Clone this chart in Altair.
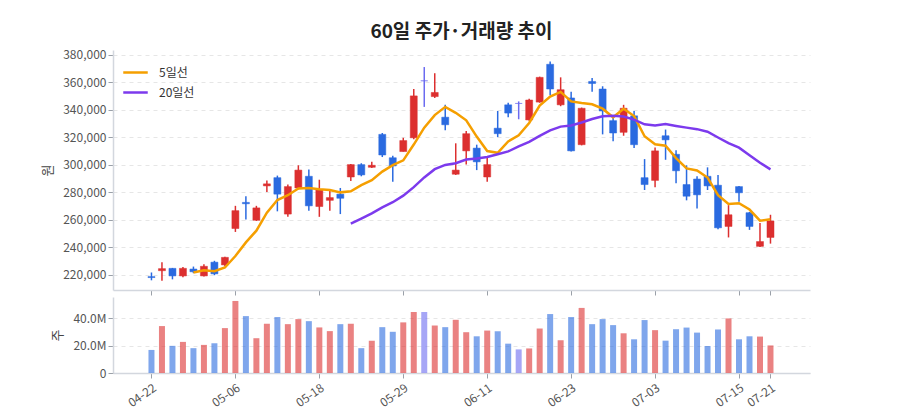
import altair as alt
import pandas as pd
import numpy as np

dates = ["04-22","04-23","04-24","04-25","04-28","04-29","04-30","05-02","05-06",
         "05-07","05-08","05-09","05-12","05-13","05-14","05-15","05-18",
         "05-19","05-20","05-21","05-22","05-23","05-26","05-27","05-29",
         "05-30","06-02","06-03","06-04","06-05","06-09","06-10","06-11",
         "06-12","06-13","06-16","06-17","06-18","06-19","06-20","06-23",
         "06-24","06-25","06-26","06-27","06-30","07-01","07-02","07-03",
         "07-04","07-07","07-08","07-09","07-10","07-11","07-14","07-15",
         "07-16","07-17","07-21"]

opens  = [218500,222800,224500,219000,224000,219000,229000,227000,253500,
          272500,259500,284500,290500,264000,283000,291500,269500,
          274000,278500,291000,300000,298000,322000,305000,309500,
          319500,361000,349500,334500,293000,310000,312000,291000,
          326500,343500,344500,332500,345500,373000,343500,348500,
          314500,360500,355000,332000,323500,335500,290500,288500,
          321000,307500,285500,289500,291500,285000,255000,284000,
          265000,240500,247000]
highs  = [221500,229000,224800,225500,225800,227500,230000,233000,270000,
          277000,270000,288500,292000,285500,299500,296500,289000,
          281000,283000,300500,301000,302000,323000,306500,319500,
          355000,371000,366500,343500,315500,324500,314500,305500,
          339000,345000,346000,348000,364000,375000,363500,353000,
          341500,363000,357000,336000,343500,339000,304000,312500,
          325500,310500,299500,291500,298000,292500,270500,284500,
          265500,257500,263500]
lows   = [215800,215500,216500,218000,221000,218500,219500,226000,251000,
          260000,259000,280000,266000,262000,282000,266500,262000,
          266500,264000,288000,291500,297500,305500,287500,309500,
          318500,342000,348500,325000,292500,300000,296000,287500,
          320000,334500,333000,332000,345000,350500,342500,309500,
          314000,353000,322000,317000,321000,312000,281500,283500,
          303500,286500,274000,268000,281500,253000,247000,273000,
          252500,240000,242500]
closes = [217800,224300,219000,224500,222000,226000,220500,232500,266500,
          271500,268500,286000,278500,284000,296000,270000,281500,
          276000,275500,300000,292500,299500,307000,299000,317500,
          350000,361000,352500,329000,296000,322500,302000,300000,
          322500,337500,344500,347000,363500,355000,354500,310000,
          341000,359000,339000,323000,341000,314500,285500,310000,
          318000,295500,277000,278000,284500,254000,263500,279500,
          255000,244000,259000]
volumes = [16.9,34.4,19.9,22.8,18.2,20.6,21.8,32.9,52.8,
           41.7,25.5,36.1,41.0,35.8,39.5,38.0,33.4,
           30.7,35.8,36.1,18.2,23.6,33.6,30.2,37.1,
           44.7,44.7,34.8,33.6,39.0,29.9,26.9,31.1,
           30.6,21.5,17.3,18.0,32.6,43.2,24.0,41.0,
           47.7,35.8,39.5,35.1,29.1,24.7,38.8,31.4,
           23.7,32.1,33.3,29.6,19.8,31.9,40.0,24.7,
           26.9,26.7,20.2]

tick_idx = [0, 8, 16, 24, 32, 40, 48, 56, 59]
price_ticks = [220000, 240000, 260000, 280000, 300000, 320000, 340000, 360000, 380000]
vol_ticks = [0, 20000000, 40000000]

FONT = "Noto Sans CJK KR"
RED = "#dc2f2f"
BLUE = "#2a6ae0"
FLAT = "#6b6bf0"

df = pd.DataFrame({
    "idx": list(range(len(dates))),
    "date": dates,
    "open": opens,
    "high": highs,
    "low": lows,
    "close": closes,
    "volume": [v * 1e6 for v in volumes],
})
df["dir"] = np.where(df["close"] > df["open"], "up",
                     np.where(df["close"] < df["open"], "down", "flat"))

label_expr = "[" + ",".join("'%s'" % d for d in dates) + "][datum.value]"

xdom = [-3.19, 62.29]
W = 697

dir_scale = alt.Scale(domain=["up", "down", "flat"], range=[RED, BLUE, FLAT])
xscale = alt.Scale(domain=xdom, nice=False, zero=False)

x_top_axis = alt.Axis(values=tick_idx, labels=False, title=None, grid=False, tickSize=5,
                      labelOverlap=False)
x_bot = alt.X("idx:Q", scale=xscale,
              axis=alt.Axis(values=tick_idx, labelExpr=label_expr, labelAngle=-35,
                            labelOverlap=False, title=None, grid=False, tickSize=5,
                            labelPadding=4))

yscale = alt.Scale(domain=[208750, 383400], nice=False, zero=False)
y_axis = alt.Axis(values=price_ticks, format=",d", title="원", titlePadding=8,
                  labelOverlap=False)

base = alt.Chart(df)

wick = base.mark_rule(strokeWidth=1.5).encode(
    x=alt.X("idx:Q", scale=xscale, axis=x_top_axis),
    y=alt.Y("low:Q", scale=yscale, axis=y_axis),
    y2="high:Q",
    color=alt.Color("dir:N", scale=dir_scale, legend=None),
)
body = base.mark_bar(size=7, strokeWidth=1, strokeOpacity=0.5).encode(
    x=alt.X("idx:Q", scale=xscale, axis=x_top_axis),
    y=alt.Y("open:Q", scale=yscale, axis=y_axis),
    y2="close:Q",
    color=alt.Color("dir:N", scale=dir_scale, legend=None),
    stroke=alt.Stroke("dir:N", scale=dir_scale, legend=None),
)

ma = base.transform_window(
    window=[alt.WindowFieldDef(op="mean", field="close", **{"as": "m5"}),
            alt.WindowFieldDef(op="count", **{"as": "n5"})],
    frame=[-4, 0], sort=[alt.SortField("idx")]
).transform_window(
    window=[alt.WindowFieldDef(op="mean", field="close", **{"as": "m20"}),
            alt.WindowFieldDef(op="count", **{"as": "n20"})],
    frame=[-19, 0], sort=[alt.SortField("idx")]
).transform_calculate(
    **{"5일선": "datum.n5 >= 5 ? datum.m5 : null",
       "20일선": "datum.n20 >= 20 ? datum.m20 : null"}
).transform_fold(
    ["5일선", "20일선"], as_=["key", "ma"]
).transform_filter("datum.ma != null").mark_line(strokeWidth=2.5).encode(
    x=alt.X("idx:Q", scale=xscale, axis=x_top_axis),
    y=alt.Y("ma:Q", scale=yscale, axis=y_axis),
    color=alt.Color("key:N",
                    scale=alt.Scale(domain=["5일선", "20일선"], range=["#f59f00", "#7c3aed"]),
                    legend=alt.Legend(title=None, orient="top-left", symbolType="stroke",
                                      symbolStrokeWidth=2.5, symbolSize=600,
                                      labelFontSize=12, labelColor="#333",
                                      rowPadding=-5, labelOffset=10,
                                      offset=9, padding=0)),
    detail="key:N",
)

top = alt.layer(wick, body, ma).resolve_scale(color="independent").properties(
    width=W, height=240,
    title=alt.Title("60일 주가·거래량 추이", anchor="middle", frame="group",
                    fontSize=19, fontWeight="bold", color="#222", font=FONT, offset=7),
)

vol = base.mark_bar(size=6, opacity=0.6).encode(
    x=x_bot,
    y=alt.Y("volume:Q", scale=alt.Scale(domain=[0, 55.7e6], nice=False),
            axis=alt.Axis(values=vol_ticks, title="주", titlePadding=8, labelOverlap=False,
                          labelExpr="datum.value == 0 ? '0' : format(datum.value/1000000, '.1f') + 'M'")),
    color=alt.Color("dir:N", scale=dir_scale, legend=None),
).properties(width=W, height=76)

chart = alt.vconcat(top, vol, spacing=1).properties(
    padding={"left": 41, "top": 22, "right": 5, "bottom": 5},
    background="white",
).configure_view(stroke=None).configure_axis(
    labelFont=FONT, titleFont=FONT, labelFontSize=12, labelColor="#555",
    titleFontSize=13, titleColor="#444", titleFontWeight="normal",
    domainColor="#d3d7de", domainWidth=1.5, tickColor="#9aa0a8",
    gridColor="#e6e6e6", gridDash=[4, 4], labelOverlap=False,
).configure_axisX(grid=False).configure_legend(labelFont=FONT).configure_title(font=FONT)

chart.save("out.html", embed_options={"renderer": "svg", "actions": False})
